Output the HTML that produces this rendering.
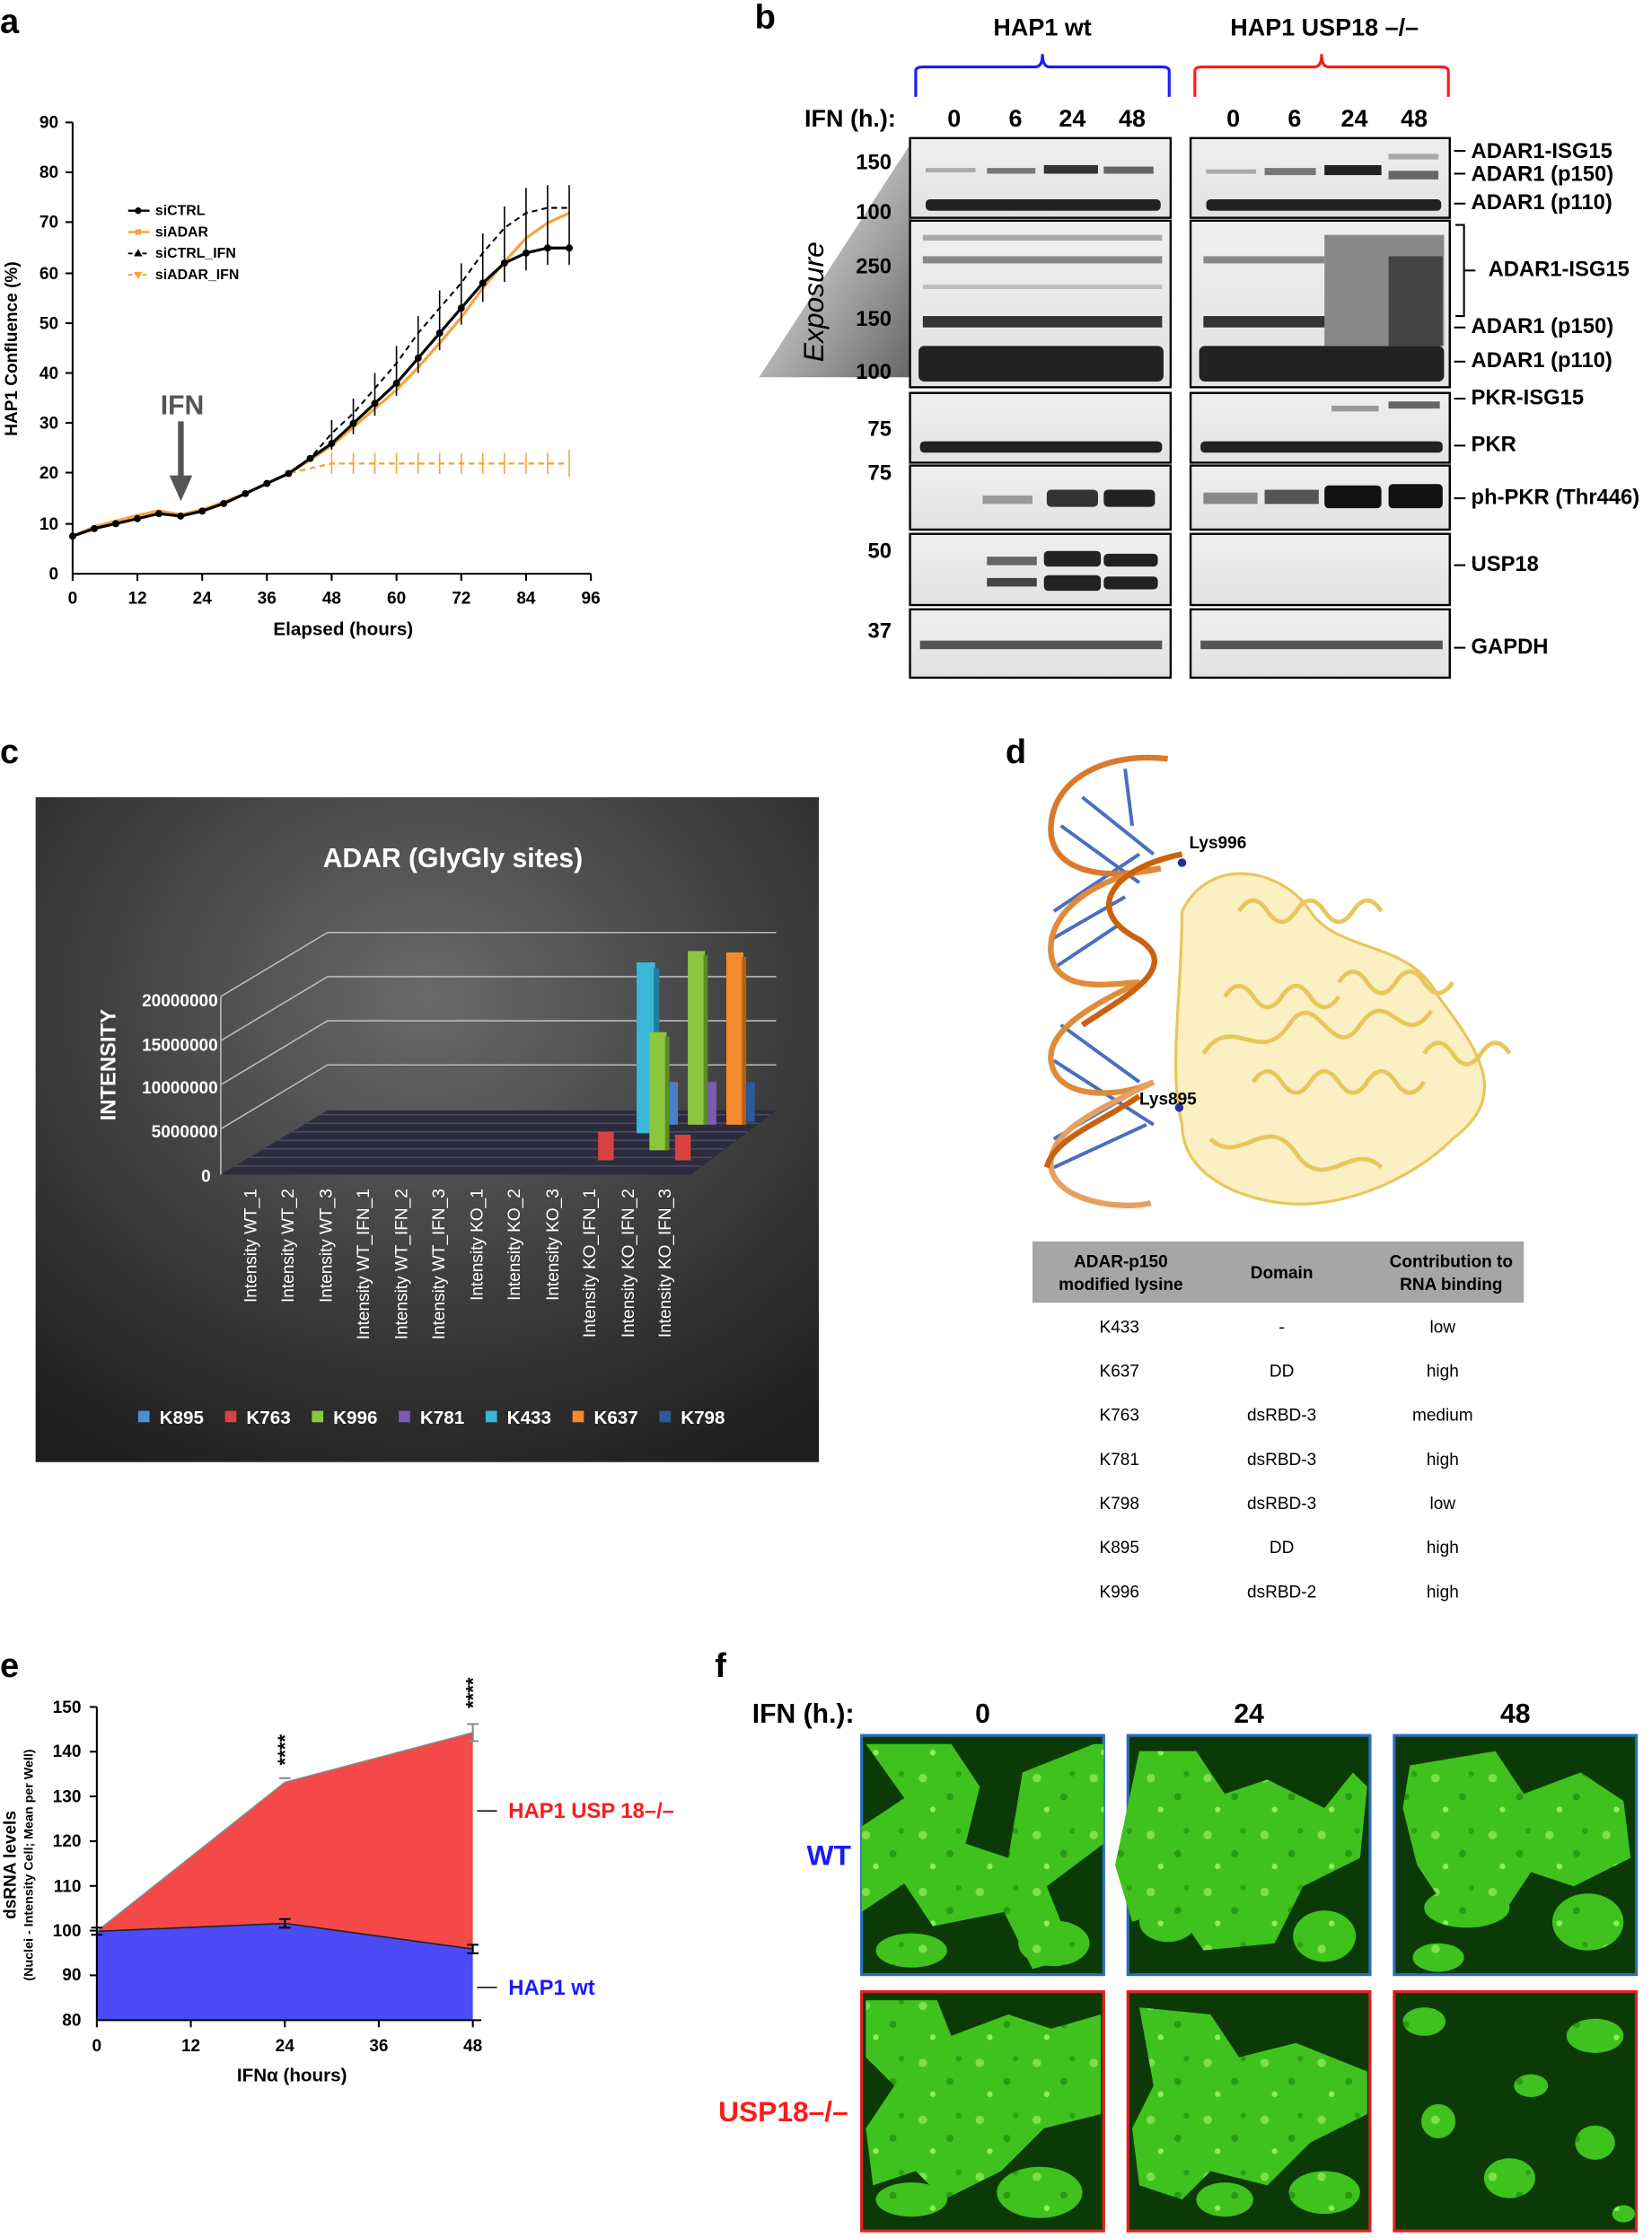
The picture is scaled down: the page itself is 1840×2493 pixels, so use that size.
<!DOCTYPE html>
<html><head><meta charset="utf-8"><style>
html,body{margin:0;padding:0;background:#fff}
svg{display:block;font-family:"Liberation Sans",Arial,sans-serif}
</style></head><body>
<svg width="1840" height="2493" viewBox="0 0 1160 1572" preserveAspectRatio="none" xmlns="http://www.w3.org/2000/svg">
<defs>
<radialGradient id="cbg" cx="0.5" cy="0.3" r="0.8"><stop offset="0" stop-color="#6a6a6a"/><stop offset="0.6" stop-color="#3a3a3a"/><stop offset="1" stop-color="#1e1e1e"/></radialGradient>
<linearGradient id="expo" x1="0" y1="0" x2="1" y2="1"><stop offset="0" stop-color="#fff"/><stop offset="1" stop-color="#666"/></linearGradient>
<linearGradient id="blot" x1="0" y1="0" x2="0" y2="1"><stop offset="0" stop-color="#efefef"/><stop offset="1" stop-color="#e2e2e2"/></linearGradient>
<pattern id="cells" width="40" height="40" patternUnits="userSpaceOnUse"><rect width="40" height="40" fill="#3fc21e"/><circle cx="8" cy="9" r="3" fill="#7ee04a"/><circle cx="27" cy="22" r="2.5" fill="#2a9a12"/><circle cx="15" cy="31" r="2" fill="#8ef05a"/><circle cx="33" cy="6" r="2" fill="#2f9e15"/></pattern>
</defs>

<!-- Panel a -->
<text x="0" y="23" font-size="24" font-weight="bold">a</text>
<g font-size="12" font-weight="bold" text-anchor="end">
<text x="41" y="90">90</text><text x="41" y="125">80</text><text x="41" y="160">70</text><text x="41" y="196">60</text><text x="41" y="231">50</text><text x="41" y="266">40</text><text x="41" y="301">30</text><text x="41" y="336">20</text><text x="41" y="372">10</text><text x="41" y="407">0</text>
</g>
<g stroke="#000" stroke-width="1.3">
<line x1="51" y1="86" x2="51" y2="403"/><line x1="51" y1="403" x2="415" y2="403"/>
<line x1="46" y1="86" x2="51" y2="86"/><line x1="46" y1="121" x2="51" y2="121"/><line x1="46" y1="156" x2="51" y2="156"/><line x1="46" y1="192" x2="51" y2="192"/><line x1="46" y1="227" x2="51" y2="227"/><line x1="46" y1="262" x2="51" y2="262"/><line x1="46" y1="297" x2="51" y2="297"/><line x1="46" y1="332" x2="51" y2="332"/><line x1="46" y1="368" x2="51" y2="368"/>
<line x1="51" y1="403" x2="51" y2="408"/><line x1="96.5" y1="403" x2="96.5" y2="408"/><line x1="142" y1="403" x2="142" y2="408"/><line x1="187.4" y1="403" x2="187.4" y2="408"/><line x1="232.9" y1="403" x2="232.9" y2="408"/><line x1="278.4" y1="403" x2="278.4" y2="408"/><line x1="323.9" y1="403" x2="323.9" y2="408"/><line x1="369.4" y1="403" x2="369.4" y2="408"/><line x1="414.9" y1="403" x2="414.9" y2="408"/>
</g>
<g font-size="12" font-weight="bold" text-anchor="middle">
<text x="51" y="424">0</text><text x="96.5" y="424">12</text><text x="142" y="424">24</text><text x="187.4" y="424">36</text><text x="232.9" y="424">48</text><text x="278.4" y="424">60</text><text x="323.9" y="424">72</text><text x="369.4" y="424">84</text><text x="414.9" y="424">96</text>
<text x="241" y="446" font-size="13">Elapsed (hours)</text>
</g>
<text transform="translate(12,245) rotate(-90)" font-size="12" font-weight="bold" text-anchor="middle">HAP1 Confluence (%)</text>
<text x="128" y="291" font-size="19" font-weight="bold" fill="#555" text-anchor="middle">IFN</text>
<line x1="127" y1="296" x2="127" y2="336" stroke="#555" stroke-width="4"/>
<polygon points="119,334 135,334 127,352" fill="#555"/>
<polyline fill="none" stroke="#f7a33c" stroke-width="1.5" stroke-dasharray="4,3" points="51,376.6 66.2,371.3 81.3,367.8 96.5,364.3 111.6,360.8 126.8,362.5 142,359 157.1,353.7 172.3,346.7 187.4,339.6 202.6,332.6 217.8,329 232.9,325.6 248.1,325.6 263.2,325.6 278.4,325.6 293.6,325.6 308.7,325.6 323.9,325.6 339,325.6 354.2,325.6 369.4,325.6 384.5,325.6 399.7,325.6"/>
<g stroke="#f7a33c" stroke-width="1">
<line x1="232.9" y1="318" x2="232.9" y2="333"/><line x1="248.1" y1="318" x2="248.1" y2="333"/><line x1="263.2" y1="318" x2="263.2" y2="333"/><line x1="278.4" y1="318" x2="278.4" y2="333"/><line x1="293.6" y1="318" x2="293.6" y2="333"/><line x1="308.7" y1="318" x2="308.7" y2="333"/><line x1="323.9" y1="318" x2="323.9" y2="333"/><line x1="339" y1="318" x2="339" y2="333"/><line x1="354.2" y1="318" x2="354.2" y2="333"/><line x1="369.4" y1="318" x2="369.4" y2="333"/><line x1="384.5" y1="318" x2="384.5" y2="333"/><line x1="399.7" y1="316" x2="399.7" y2="335"/>
</g>
<polyline fill="none" stroke="#000" stroke-width="1.3" stroke-dasharray="4,3" points="51,376.6 66.2,371.3 81.3,367.8 96.5,364.3 111.6,360.8 126.8,362.5 142,359 157.1,353.7 172.3,346.7 187.4,339.6 202.6,332.6 217.8,322 232.9,304.4 248.1,290.4 263.2,272.8 278.4,255.2 293.6,234 308.7,216.4 323.9,198.8 339,177.7 354.2,160.1 369.4,149.6 384.5,146 399.7,146"/>
<polyline fill="none" stroke="#f7a33c" stroke-width="2" points="51,376.6 66.2,370 81.3,366 96.5,362 111.6,358.8 126.8,361.5 142,358 157.1,352.7 172.3,346.7 187.4,339.6 202.6,332.6 217.8,323 232.9,313 248.1,300 263.2,287 278.4,274 293.6,258 308.7,241 323.9,223 339,202.4 354.2,184 369.4,167.2 384.5,156.6 399.7,149.6"/>
<polyline fill="none" stroke="#000" stroke-width="2" points="51,376.6 66.2,371.3 81.3,367.8 96.5,364.3 111.6,360.8 126.8,362.5 142,359 157.1,353.7 172.3,346.7 187.4,339.6 202.6,332.6 217.8,322 232.9,311.5 248.1,297.4 263.2,283.3 278.4,269.2 293.6,251.6 308.7,234 323.9,216.4 339,198.8 354.2,184.8 369.4,177.7 384.5,174.2 399.7,174.2"/>
<g stroke="#000" stroke-width="1">
<line x1="232.9" y1="295" x2="232.9" y2="316"/><line x1="248.1" y1="280" x2="248.1" y2="305"/><line x1="263.2" y1="262" x2="263.2" y2="292"/><line x1="278.4" y1="243" x2="278.4" y2="278"/><line x1="293.6" y1="222" x2="293.6" y2="262"/><line x1="308.7" y1="204" x2="308.7" y2="246"/><line x1="323.9" y1="185" x2="323.9" y2="228"/><line x1="339" y1="164" x2="339" y2="212"/><line x1="354.2" y1="145" x2="354.2" y2="198"/><line x1="369.4" y1="132" x2="369.4" y2="190"/><line x1="384.5" y1="130" x2="384.5" y2="186"/><line x1="399.7" y1="130" x2="399.7" y2="186"/>
</g>
<g fill="#000">
<circle cx="51" cy="376.6" r="2.5"/><circle cx="66.2" cy="371.3" r="2.5"/><circle cx="81.3" cy="367.8" r="2.5"/><circle cx="96.5" cy="364.3" r="2.5"/><circle cx="111.6" cy="360.8" r="2.5"/><circle cx="126.8" cy="362.5" r="2.5"/><circle cx="142" cy="359" r="2.5"/><circle cx="157.1" cy="353.7" r="2.5"/><circle cx="172.3" cy="346.7" r="2.5"/><circle cx="187.4" cy="339.6" r="2.5"/><circle cx="202.6" cy="332.6" r="2.5"/><circle cx="217.8" cy="322" r="2.5"/><circle cx="232.9" cy="311.5" r="2.5"/><circle cx="248.1" cy="297.4" r="2.5"/><circle cx="263.2" cy="283.3" r="2.5"/><circle cx="278.4" cy="269.2" r="2.5"/><circle cx="293.6" cy="251.6" r="2.5"/><circle cx="308.7" cy="234" r="2.5"/><circle cx="323.9" cy="216.4" r="2.5"/><circle cx="339" cy="198.8" r="2.5"/><circle cx="354.2" cy="184.8" r="2.5"/><circle cx="369.4" cy="177.7" r="2.5"/><circle cx="384.5" cy="174.2" r="2.5"/><circle cx="399.7" cy="174.2" r="2.5"/>
</g>
<g font-size="10" font-weight="bold">
<line x1="90" y1="148" x2="105" y2="148" stroke="#000" stroke-width="1.5"/><circle cx="97" cy="148" r="2.3"/><text x="109" y="151">siCTRL</text>
<line x1="90" y1="163" x2="105" y2="163" stroke="#f7a33c" stroke-width="1.5"/><rect x="95" y="161" width="4" height="4" fill="#f7a33c"/><text x="109" y="166">siADAR</text>
<line x1="90" y1="178" x2="105" y2="178" stroke="#000" stroke-width="1.2" stroke-dasharray="3,2"/><polygon points="97,175 100,180 94,180"/><text x="109" y="181">siCTRL_IFN</text>
<line x1="90" y1="193" x2="105" y2="193" stroke="#f7a33c" stroke-width="1.2" stroke-dasharray="3,2"/><polygon points="94,191 100,191 97,196" fill="#f7a33c"/><text x="109" y="196">siADAR_IFN</text>
</g>

<!-- Panel b -->
<text x="530" y="20" font-size="24" font-weight="bold">b</text>
<g font-size="17" font-weight="bold" text-anchor="middle">
<text x="732" y="25">HAP1 wt</text><text x="930" y="25">HAP1 USP18 –/–</text>
</g>
<path d="M643,68 L643,50 Q643,47 648,47 L727,47 Q732,47 732,38 Q732,47 737,47 L816,47 Q821,47 821,50 L821,68" fill="none" stroke="#1a1aff" stroke-width="2"/>
<path d="M839,68 L839,50 Q839,47 844,47 L923,47 Q928,47 928,38 Q928,47 933,47 L1012,47 Q1017,47 1017,50 L1017,68" fill="none" stroke="#ff1a1a" stroke-width="2"/>
<g font-size="17" font-weight="bold" text-anchor="middle">
<text x="597" y="89">IFN (h.):</text>
<text x="670" y="89">0</text><text x="713" y="89">6</text><text x="753" y="89">24</text><text x="795" y="89">48</text>
<text x="866" y="89">0</text><text x="909" y="89">6</text><text x="951" y="89">24</text><text x="993" y="89">48</text>
</g>
<polygon points="640,100 640,265 533,265" fill="url(#expo)"/>
<text transform="translate(578,212) rotate(-90)" font-size="20" font-style="italic" text-anchor="middle">Exposure</text>
<g font-size="15" font-weight="bold" text-anchor="end">
<text x="626" y="119">150</text><text x="626" y="154">100</text><text x="626" y="192">250</text><text x="626" y="229">150</text><text x="626" y="266">100</text><text x="626" y="306">75</text><text x="626" y="337">75</text><text x="626" y="392">50</text><text x="626" y="448">37</text>
</g>
<g fill="url(#blot)" stroke="#000" stroke-width="1.5">
<rect x="639" y="97" width="183" height="56"/><rect x="836" y="97" width="182" height="56"/>
<rect x="639" y="155" width="183" height="117"/><rect x="836" y="155" width="182" height="117"/>
<rect x="639" y="276" width="183" height="49"/><rect x="836" y="276" width="182" height="49"/>
<rect x="639" y="327" width="183" height="45"/><rect x="836" y="327" width="182" height="45"/>
<rect x="639" y="375" width="183" height="50"/><rect x="836" y="375" width="182" height="50"/>
<rect x="639" y="428" width="183" height="48"/><rect x="836" y="428" width="182" height="48"/>
</g>
<g fill="#222">
<rect x="650" y="140" width="165" height="8" rx="3"/><rect x="847" y="140" width="165" height="8" rx="3"/>
<rect x="650" y="118" width="35" height="3" fill="#aaa"/><rect x="693" y="118" width="34" height="4" fill="#777"/><rect x="733" y="116" width="38" height="6" fill="#333"/><rect x="775" y="117" width="35" height="5" fill="#666"/>
<rect x="847" y="119" width="35" height="3" fill="#aaa"/><rect x="888" y="118" width="36" height="5" fill="#777"/><rect x="930" y="116" width="40" height="7" fill="#222"/><rect x="975" y="120" width="35" height="6" fill="#666"/><rect x="975" y="108" width="35" height="4" fill="#aaa"/>
<rect x="645" y="243" width="172" height="25" rx="4"/><rect x="842" y="243" width="172" height="25" rx="4"/>
<rect x="648" y="222" width="168" height="8" fill="#333"/><rect x="845" y="222" width="168" height="8" fill="#333"/>
<rect x="648" y="180" width="168" height="5" fill="#888"/><rect x="648" y="165" width="168" height="4" fill="#aaa"/><rect x="648" y="200" width="168" height="3" fill="#bbb"/>
<rect x="845" y="180" width="85" height="5" fill="#888"/><rect x="930" y="165" width="84" height="78" fill="#888"/><rect x="975" y="180" width="38" height="63" fill="#444"/>
<rect x="646" y="310" width="170" height="8" rx="3"/><rect x="843" y="310" width="170" height="8" rx="3"/>
<rect x="935" y="285" width="33" height="4" fill="#999"/><rect x="975" y="282" width="36" height="5" fill="#666"/>
<rect x="735" y="344" width="36" height="12" rx="3" fill="#333"/><rect x="775" y="344" width="36" height="12" rx="3" fill="#222"/><rect x="690" y="348" width="35" height="6" fill="#999"/>
<rect x="845" y="346" width="38" height="8" fill="#888"/><rect x="888" y="344" width="38" height="10" fill="#555"/><rect x="930" y="341" width="40" height="16" rx="3" fill="#111"/><rect x="975" y="340" width="38" height="17" rx="3" fill="#111"/>
<rect x="693" y="391" width="35" height="6" fill="#666"/><rect x="693" y="406" width="35" height="6" fill="#444"/>
<rect x="733" y="387" width="40" height="11" rx="3"/><rect x="733" y="404" width="40" height="11" rx="3"/>
<rect x="775" y="389" width="38" height="9" rx="3"/><rect x="775" y="405" width="38" height="9" rx="3"/>
<rect x="646" y="450" width="170" height="6" fill="#555"/><rect x="843" y="450" width="170" height="6" fill="#555"/>
</g>
<g font-size="15" font-weight="bold">
<text x="1033" y="111">ADAR1-ISG15</text><text x="1033" y="127">ADAR1 (p150)</text><text x="1033" y="147">ADAR1 (p110)</text>
<text x="1045" y="194">ADAR1-ISG15</text><text x="1033" y="234">ADAR1 (p150)</text><text x="1033" y="258">ADAR1 (p110)</text>
<text x="1033" y="284">PKR-ISG15</text><text x="1033" y="317">PKR</text><text x="1033" y="354">ph-PKR (Thr446)</text>
<text x="1033" y="401">USP18</text><text x="1033" y="459">GAPDH</text>
</g>
<g stroke="#000" stroke-width="1.3">
<line x1="1021" y1="106" x2="1029" y2="106"/><line x1="1021" y1="122" x2="1029" y2="122"/><line x1="1021" y1="143" x2="1029" y2="143"/>
<line x1="1021" y1="230" x2="1029" y2="230"/><line x1="1021" y1="254" x2="1029" y2="254"/><line x1="1021" y1="280" x2="1029" y2="280"/><line x1="1021" y1="313" x2="1029" y2="313"/><line x1="1021" y1="350" x2="1029" y2="350"/><line x1="1021" y1="397" x2="1029" y2="397"/><line x1="1021" y1="455" x2="1029" y2="455"/>
</g>
<path d="M1022,158 L1028,158 L1028,222 L1022,222" fill="none" stroke="#000" stroke-width="1.3"/>
<line x1="1028" y1="190" x2="1036" y2="190" stroke="#000" stroke-width="1.3"/>

<!-- Panel c -->
<text x="0" y="536" font-size="24" font-weight="bold">c</text>
<rect x="25" y="560" width="550" height="467" fill="url(#cbg)"/>
<text x="318" y="609" font-size="19" font-weight="bold" fill="#fff" text-anchor="middle">ADAR (GlyGly sites)</text>
<text transform="translate(81,748) rotate(-90)" font-size="15" font-weight="bold" fill="#fff" text-anchor="middle">INTENSITY</text>
<g font-size="12" font-weight="bold" fill="#fff" text-anchor="end">
<text x="153" y="707">20000000</text><text x="153" y="738">15000000</text><text x="153" y="768">10000000</text><text x="153" y="799">5000000</text><text x="148" y="830">0</text>
</g>
<g stroke="#bbb" stroke-width="1" fill="none">
<polyline points="155,700 230,655 545,655"/><polyline points="155,731 230,686 545,686"/><polyline points="155,762 230,717 545,717"/><polyline points="155,793 230,748 545,748"/>
<line x1="155" y1="700" x2="155" y2="825"/>
</g>
<polygon points="155,825 230,780 545,780 485,825" fill="#2c2c3c"/>
<g stroke="#4a4a6a" stroke-width="1">
<line x1="165" y1="819" x2="492" y2="819"/><line x1="175" y1="813" x2="500" y2="813"/><line x1="185" y1="807" x2="508" y2="807"/><line x1="195" y1="801" x2="517" y2="801"/><line x1="205" y1="795" x2="525" y2="795"/><line x1="215" y1="789" x2="533" y2="789"/><line x1="225" y1="783" x2="541" y2="783"/>
</g>
<rect x="447" y="676" width="13" height="120" fill="#3bb7d8"/><rect x="459" y="680" width="4" height="116" fill="#1f7f99"/>
<rect x="456" y="725" width="12" height="83" fill="#8cc63f"/><rect x="467" y="728" width="3" height="80" fill="#5a8d22"/>
<rect x="483" y="668" width="12" height="122" fill="#8cc63f"/><rect x="494" y="671" width="3" height="119" fill="#5a8d22"/>
<rect x="420" y="795" width="11" height="20" fill="#d9423e"/>
<rect x="474" y="797" width="11" height="18" fill="#d9423e"/>
<rect x="510" y="669" width="12" height="121" fill="#f58b2c"/><rect x="521" y="672" width="3" height="118" fill="#b55f14"/>
<rect x="497" y="760" width="6" height="30" fill="#7a5bb5"/>
<rect x="524" y="760" width="6" height="28" fill="#2a5a9a"/>
<rect x="470" y="760" width="6" height="30" fill="#4a7fc8"/>
<g font-size="12" fill="#fff" text-anchor="end">
<text transform="translate(180,835) rotate(-90)">Intensity WT_1</text>
<text transform="translate(206,835) rotate(-90)">Intensity WT_2</text>
<text transform="translate(233,835) rotate(-90)">Intensity WT_3</text>
<text transform="translate(259,835) rotate(-90)">Intensity WT_IFN_1</text>
<text transform="translate(286,835) rotate(-90)">Intensity WT_IFN_2</text>
<text transform="translate(312,835) rotate(-90)">Intensity WT_IFN_3</text>
<text transform="translate(339,835) rotate(-90)">Intensity KO_1</text>
<text transform="translate(365,835) rotate(-90)">Intensity KO_2</text>
<text transform="translate(392,835) rotate(-90)">Intensity KO_3</text>
<text transform="translate(418,835) rotate(-90)">Intensity KO_IFN_1</text>
<text transform="translate(445,835) rotate(-90)">Intensity KO_IFN_2</text>
<text transform="translate(471,835) rotate(-90)">Intensity KO_IFN_3</text>
</g>
<g font-size="13" font-weight="bold" fill="#fff">
<rect x="97" y="991" width="8" height="8" fill="#4a90d9"/><text x="112" y="1000">K895</text>
<rect x="158" y="991" width="8" height="8" fill="#d9423e"/><text x="173" y="1000">K763</text>
<rect x="219" y="991" width="8" height="8" fill="#8cc63f"/><text x="234" y="1000">K996</text>
<rect x="280" y="991" width="8" height="8" fill="#7a5bb5"/><text x="295" y="1000">K781</text>
<rect x="341" y="991" width="8" height="8" fill="#3bb7d8"/><text x="356" y="1000">K433</text>
<rect x="402" y="991" width="8" height="8" fill="#f58b2c"/><text x="417" y="1000">K637</text>
<rect x="463" y="991" width="8" height="8" fill="#2a5a9a"/><text x="478" y="1000">K798</text>
</g>

<!-- Panel d -->
<text x="706" y="536" font-size="24" font-weight="bold">d</text>
<g fill="none" stroke="#e8c65a" stroke-width="3">
<path d="M830,640 C850,600 900,610 920,640 C940,670 990,660 1010,700 C1040,740 1060,770 1020,800 C990,830 940,850 900,845 C860,840 830,820 830,790 C820,750 830,700 830,640Z" fill="#fbefc4" stroke-width="2"/>
<path d="M870,640 q10,-15 20,0 q10,15 20,0 q10,-15 20,0 q10,15 20,0 q10,-15 20,0"/>
<path d="M860,700 q10,-15 20,0 q10,15 20,0 q10,-15 20,0 q10,15 20,0"/>
<path d="M880,760 q10,-15 20,0 q10,15 20,0 q10,-15 20,0 q10,15 20,0 q10,-15 20,0 q10,15 20,0"/>
<path d="M940,690 q10,-15 20,0 q10,15 20,0 q10,-15 20,0 q10,15 20,0"/>
<path d="M845,740 c20,-30 40,10 60,-20 c20,-30 30,30 50,0 c20,-30 30,20 50,-10"/>
<path d="M850,800 c20,20 40,-20 60,10 c20,30 40,-10 60,10"/>
<path d="M1000,740 q10,-15 20,0 q10,15 20,0 q10,-15 20,0"/>
</g>
<g stroke="#4a6fc0" stroke-width="2.5">
<line x1="760" y1="560" x2="810" y2="600"/><line x1="745" y1="580" x2="800" y2="620"/><line x1="740" y1="640" x2="800" y2="600"/><line x1="738" y1="660" x2="790" y2="630"/><line x1="740" y1="680" x2="785" y2="650"/><line x1="745" y1="720" x2="800" y2="760"/><line x1="740" y1="745" x2="810" y2="790"/><line x1="740" y1="800" x2="800" y2="765"/><line x1="740" y1="820" x2="805" y2="790"/><line x1="790" y1="540" x2="795" y2="580"/>
</g>
<g fill="none" stroke-width="4">
<path d="M820,533 C780,528 740,545 738,580 C736,610 770,620 815,610" stroke="#d9792d"/>
<path d="M815,610 C770,615 735,640 738,670 C742,700 785,690 800,690 C780,700 735,720 738,745 C742,775 790,770 810,760" stroke="#e08b3a"/>
<path d="M830,600 C780,610 760,640 800,660 C830,680 790,700 760,720" stroke="#c9620f"/>
<path d="M810,760 C770,780 735,795 738,820 C742,845 790,850 808,845" stroke="#e8a060"/>
<path d="M800,770 C770,790 740,800 735,820" stroke="#c9620f"/>
</g>
<circle cx="830" cy="606" r="3" fill="#2030a0"/><circle cx="828" cy="778" r="3" fill="#2030a0"/>
<text x="835" y="596" font-size="12" font-weight="bold">Lys996</text>
<text x="800" y="776" font-size="12" font-weight="bold">Lys895</text>
<rect x="725" y="872" width="345" height="43" fill="#a6a6a6"/>
<g font-size="12" font-weight="bold" text-anchor="middle">
<text x="787" y="890">ADAR-p150</text><text x="787" y="906">modified lysine</text>
<text x="900" y="898">Domain</text>
<text x="1019" y="890">Contribution to</text><text x="1019" y="906">RNA binding</text>
</g>
<g font-size="12" text-anchor="middle">
<text x="786" y="936">K433</text><text x="900" y="936">-</text><text x="1013" y="936">low</text>
<text x="786" y="967">K637</text><text x="900" y="967">DD</text><text x="1013" y="967">high</text>
<text x="786" y="998">K763</text><text x="900" y="998">dsRBD-3</text><text x="1013" y="998">medium</text>
<text x="786" y="1029">K781</text><text x="900" y="1029">dsRBD-3</text><text x="1013" y="1029">high</text>
<text x="786" y="1060">K798</text><text x="900" y="1060">dsRBD-3</text><text x="1013" y="1060">low</text>
<text x="786" y="1091">K895</text><text x="900" y="1091">DD</text><text x="1013" y="1091">high</text>
<text x="786" y="1122">K996</text><text x="900" y="1122">dsRBD-2</text><text x="1013" y="1122">high</text>
</g>

<!-- Panel e -->
<text x="0" y="1178" font-size="24" font-weight="bold">e</text>
<polygon points="68,1419 68,1356.6 200,1351 332,1369 332,1419" fill="#4b4bf7"/>
<polygon points="68,1356.6 200,1252 332,1217 332,1369 200,1351" fill="#f54848"/>
<polyline points="68,1356.6 200,1351 332,1369" fill="none" stroke="#222" stroke-width="1"/>
<polyline points="68,1356.6 200,1252 332,1217" fill="none" stroke="#888" stroke-width="1"/>
<g stroke="#000" stroke-width="1.3">
<line x1="68" y1="1199" x2="68" y2="1419"/><line x1="68" y1="1419" x2="338" y2="1419"/>
<line x1="63" y1="1199" x2="68" y2="1199"/><line x1="63" y1="1230.4" x2="68" y2="1230.4"/><line x1="63" y1="1261.8" x2="68" y2="1261.8"/><line x1="63" y1="1293.3" x2="68" y2="1293.3"/><line x1="63" y1="1324.7" x2="68" y2="1324.7"/><line x1="63" y1="1356.1" x2="68" y2="1356.1"/><line x1="63" y1="1387.5" x2="68" y2="1387.5"/>
<line x1="68" y1="1419" x2="68" y2="1424"/><line x1="134" y1="1419" x2="134" y2="1424"/><line x1="200" y1="1419" x2="200" y2="1424"/><line x1="266" y1="1419" x2="266" y2="1424"/><line x1="332" y1="1419" x2="332" y2="1424"/>
<line x1="196" y1="1348" x2="204" y2="1348"/><line x1="196" y1="1354" x2="204" y2="1354"/><line x1="200" y1="1348" x2="200" y2="1354"/>
<line x1="328" y1="1366" x2="336" y2="1366"/><line x1="328" y1="1372" x2="336" y2="1372"/><line x1="332" y1="1366" x2="332" y2="1372"/>
<line x1="64" y1="1354" x2="72" y2="1354"/><line x1="64" y1="1359" x2="72" y2="1359"/>
</g>
<g stroke="#888" stroke-width="1.3"><line x1="196" y1="1249" x2="204" y2="1249"/><line x1="328" y1="1211" x2="336" y2="1211"/><line x1="332" y1="1211" x2="332" y2="1223"/><line x1="328" y1="1223" x2="336" y2="1223"/></g>
<g font-size="12" font-weight="bold" text-anchor="end">
<text x="57" y="1203">150</text><text x="57" y="1234">140</text><text x="57" y="1266">130</text><text x="57" y="1297">120</text><text x="57" y="1329">110</text><text x="57" y="1360">100</text><text x="57" y="1391">90</text><text x="57" y="1423">80</text>
</g>
<g font-size="12" font-weight="bold" text-anchor="middle">
<text x="68" y="1441">0</text><text x="134" y="1441">12</text><text x="200" y="1441">24</text><text x="266" y="1441">36</text><text x="332" y="1441">48</text>
<text x="205" y="1462" font-size="13">IFNα (hours)</text>
</g>
<text transform="translate(11,1310) rotate(-90)" font-size="12" font-weight="bold" text-anchor="middle">dsRNA levels</text>
<text transform="translate(23,1310) rotate(-90)" font-size="9" font-weight="bold" text-anchor="middle">(Nuclei - Intensity Cell; Mean per Well)</text>
<text transform="translate(205,1240) rotate(-90)" font-size="14" font-weight="bold">****</text>
<text transform="translate(337,1200) rotate(-90)" font-size="14" font-weight="bold">****</text>
<line x1="335" y1="1272" x2="349" y2="1272" stroke="#000"/><line x1="335" y1="1396" x2="349" y2="1396" stroke="#000"/>
<text x="357" y="1277" font-size="15" font-weight="bold" fill="#ff1a1a">HAP1 USP 18–/–</text>
<text x="357" y="1401" font-size="15" font-weight="bold" fill="#1a1aff">HAP1 wt</text>

<!-- Panel f -->
<text x="502" y="1178" font-size="24" font-weight="bold">f</text>
<g font-size="19" font-weight="bold" text-anchor="middle">
<text x="564" y="1210">IFN (h.):</text><text x="690" y="1210">0</text><text x="877" y="1210">24</text><text x="1064" y="1210">48</text>
</g>
<g stroke-width="2">
<rect x="605" y="1219" width="170" height="168" fill="#0c3a06" stroke="#2a6cc0"/>
<rect x="792" y="1219" width="170" height="168" fill="#0c3a06" stroke="#2a6cc0"/>
<rect x="979" y="1219" width="170" height="168" fill="#0c3a06" stroke="#2a6cc0"/>
<rect x="605" y="1399" width="170" height="168" fill="#0c3a06" stroke="#e02020"/>
<rect x="792" y="1399" width="170" height="168" fill="#0c3a06" stroke="#e02020"/>
<rect x="979" y="1399" width="170" height="168" fill="#0c3a06" stroke="#e02020"/>
</g>
<g fill="url(#cells)">
<path d="M608,1225 h60 l20,30 l-10,40 l30,10 l10,-60 l50,-20 l7,0 v70 l-40,30 l20,50 l-30,8 l-20,-40 l-50,10 l-20,-30 l-30,20 l-0,-60 l30,-20 z"/>
<ellipse cx="640" cy="1370" rx="25" ry="12"/><ellipse cx="740" cy="1365" rx="25" ry="16"/>
<path d="M800,1230 l40,0 l20,30 l30,-10 l40,20 l20,-25 l10,10 l-5,50 l-40,20 l-20,40 l-50,5 l-20,-30 l-30,10 l-12,-40 z"/>
<ellipse cx="820" cy="1350" rx="20" ry="14"/><ellipse cx="930" cy="1360" rx="22" ry="18"/>
<path d="M990,1240 l60,-10 l20,30 l40,-15 l30,20 l5,40 l-40,20 l-30,-10 l-20,30 l-40,-5 l-20,-30 l-10,-40 z"/>
<ellipse cx="1030" cy="1340" rx="30" ry="14"/><ellipse cx="1115" cy="1350" rx="25" ry="20"/><ellipse cx="1010" cy="1375" rx="18" ry="10"/>
<path d="M608,1405 h50 l10,25 l40,-15 l30,10 l35,-10 v70 l-40,10 l-30,30 l-40,20 l-20,-20 l-30,10 l-5,-40 l20,-30 l-20,-20 z"/>
<ellipse cx="730" cy="1540" rx="30" ry="18"/><ellipse cx="640" cy="1545" rx="25" ry="12"/>
<path d="M800,1410 l50,5 l20,30 l40,-10 l50,20 v30 l-40,20 l-30,30 l-40,-10 l-20,20 l-30,-10 l-5,-40 l15,-30 z"/>
<ellipse cx="860" cy="1545" rx="20" ry="12"/><ellipse cx="930" cy="1540" rx="25" ry="15"/>
<ellipse cx="1000" cy="1420" rx="15" ry="10"/><ellipse cx="1120" cy="1430" rx="20" ry="12"/><ellipse cx="1010" cy="1490" rx="12" ry="12"/><ellipse cx="1075" cy="1465" rx="12" ry="8"/><ellipse cx="1120" cy="1505" rx="14" ry="12"/><ellipse cx="1060" cy="1530" rx="18" ry="14"/><ellipse cx="1140" cy="1555" rx="8" ry="6"/>
</g>
<rect x="560" y="1290" width="42" height="26" fill="#fff"/>
<rect x="498" y="1470" width="104" height="26" fill="#fff"/>
<text x="582" y="1310" font-size="20" font-weight="bold" fill="#1a1aff" text-anchor="middle">WT</text>
<text x="550" y="1490" font-size="20" font-weight="bold" fill="#ff1a1a" text-anchor="middle">USP18–/–</text>
</svg>
</body></html>
